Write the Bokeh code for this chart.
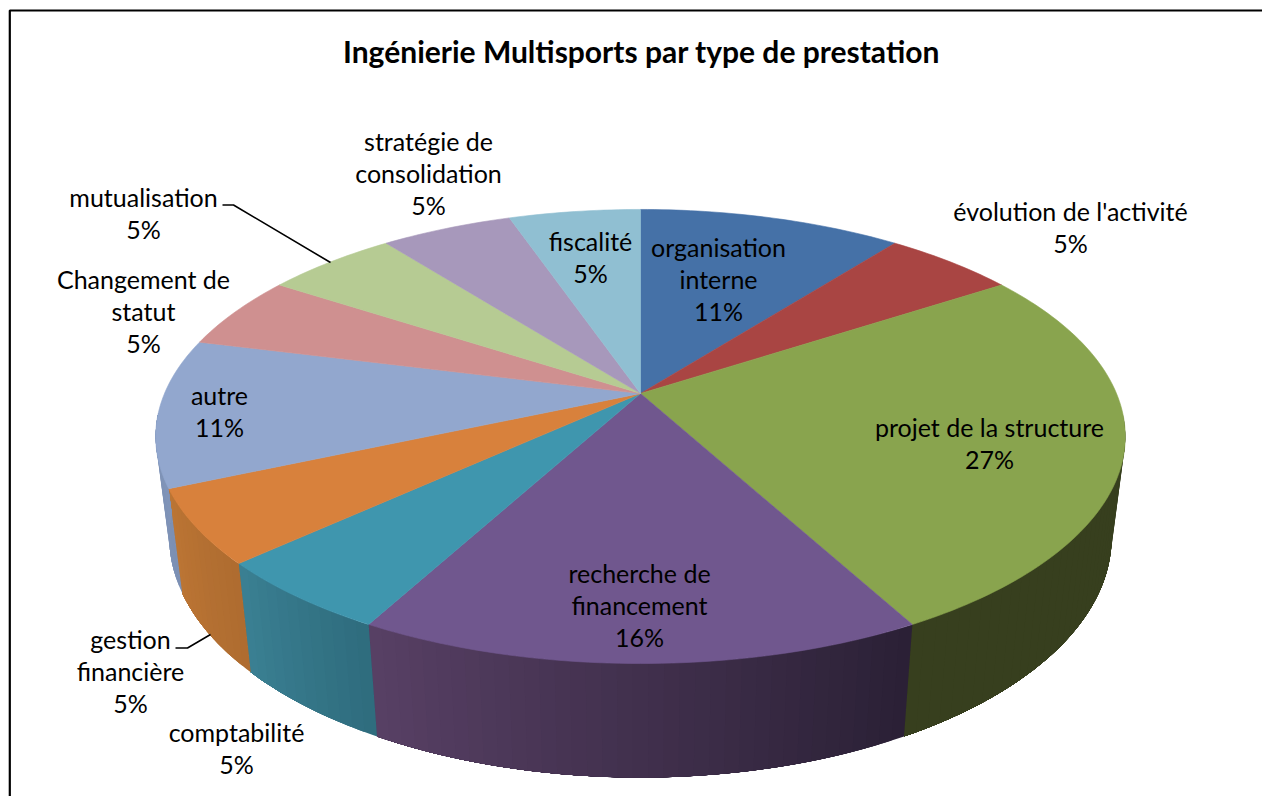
import math
from bokeh.plotting import figure
from bokeh.models import Range1d
from bokeh.core.properties import value
from bokeh.embed import file_html
from bokeh.resources import INLINE

title = "Ingénierie Multisports par type de prestation"
categories = ["organisation interne", "évolution de l'activité", "projet de la structure",
              "recherche de financement", "comptabilité", "gestion financière", "autre",
              "Changement de statut", "mutualisation", "stratégie de consolidation", "fiscalité"]
counts = [4, 2, 10, 6, 2, 2, 4, 2, 2, 2, 2]
percent_labels = ["11%", "5%", "27%", "16%", "5%", "5%", "11%", "5%", "5%", "5%", "5%"]
top_colors = ["#4571A7", "#A94543", "#89A44E", "#70578E", "#3F96AE", "#D8813C",
              "#92A7CE", "#CF9090", "#B6CB93", "#A798BB", "#90BFD2"]
# wall colours: (start, end) as the wall runs clockwise
wall_colors = {2: ("#373F1E", "#373F1E"), 3: ("#2A2035", "#584065"), 4: ("#2F6C7D", "#3A8093"),
               5: ("#AE6C30", "#BC7534"), 6: ("#7C90B4", "#8094B8")}

# label layout: line breaks, centre x, centre y of each row
label_rows = [["organisation", "interne", "11%"], ["évolution de l'activité", "5%"],
              ["projet de la structure", "27%"], ["recherche de", "financement", "16%"],
              ["comptabilité", "5%"], ["gestion", "financière", "5%"], ["autre", "11%"],
              ["Changement de", "statut", "5%"], ["mutualisation", "5%"],
              ["stratégie de", "consolidation", "5%"], ["fiscalité", "5%"]]
label_x = [718, 1070, 989, 639, 236, 130, 219, 143, 143, 428, 590]
label_y = [246, 210, 426, 572, 731, 638, 394, 278, 196, 140, 240]
ROW = 32.4
leaders = [([222, 233, 330], [204.5, 204.5, 262]), ([175, 187, 210], [647.5, 647.5, 634])]

TOP = dict(cx=640, y0=393, a=476, b=218.9, k=0.1894)
BOT = dict(cx=640, y0=492, a=463, b=232, k=0.186)


def project(theta, plane):
    u, v = math.sin(theta), -math.cos(theta)
    d = 1 - plane["k"] * v
    return plane["cx"] + plane["a"] * u / d, plane["y0"] + plane["b"] * v / d


def lerp_hex(c0, c1, t):
    a = [int(c0[i:i + 2], 16) for i in (1, 3, 5)]
    b = [int(c1[i:i + 2], 16) for i in (1, 3, 5)]
    return "#%02x%02x%02x" % tuple(round(x + (y - x) * t) for x, y in zip(a, b))


p = figure(width=1262, height=796, output_backend="svg", toolbar_location=None,
           x_range=Range1d(0, 1262), y_range=Range1d(796, 0), min_border=0,
           outline_line_color=None, background_fill_color="white", border_fill_color="white")
p.axis.visible = False
p.grid.visible = False

total = sum(counts)
angles = [0.0]
for c in counts:
    angles.append(angles[-1] + c / total * 2 * math.pi)

# frame: left and top sides only are inside the picture
p.line([9.3, 9.3, 1262], [796, 10, 10], line_color="black", line_width=2.2)

# side walls: each strip runs on to the wall's far end, the next strip paints over it
wx, wy, wc = [], [], []
lim0, lim1 = math.radians(95), math.radians(265)
for i, (col0, col1) in wall_colors.items():
    t0, t1 = max(angles[i], lim0), min(angles[i + 1], lim1)
    n = max(1, int(math.degrees(t1 - t0) / 1.5))
    for j in range(n):
        a0 = t0 + (t1 - t0) * j / n
        steps = [a0 + (t1 - a0) * m / 24 for m in range(25)]
        top = [project(a, TOP) for a in steps]
        bot = [project(a, BOT) for a in reversed(steps)]
        wx.append([q[0] for q in top + bot])
        wy.append([q[1] for q in top + bot])
        wc.append(lerp_hex(col0, col1, (j + 0.5) / n))
p.patches(wx, wy, fill_color=wc, line_color=None)

# top faces
tx, ty = [], []
for i in range(len(counts)):
    n = max(2, int(math.degrees(angles[i + 1] - angles[i])))
    pts = [project(angles[i] + (angles[i + 1] - angles[i]) * j / n, TOP) for j in range(n + 1)]
    tx.append([TOP["cx"]] + [q[0] for q in pts])
    ty.append([TOP["y0"]] + [q[1] for q in pts])
p.patches(tx, ty, fill_color=top_colors, line_color=top_colors, line_width=0.6)

for lx, ly in leaders:
    p.line(lx, ly, line_color="black", line_width=1.6)

FONT = "Lato"
xs, ys, txt = [], [], []
for rows, x, y in zip(label_rows, label_x, label_y):
    for r, row in enumerate(rows):
        xs.append(x)
        ys.append(y + r * ROW)
        txt.append(row)
p.text(xs, ys, text=txt, text_font=value(FONT), text_font_size="25px", text_color="black",
       text_align="center", text_baseline="middle")
p.text([641], [50], text=[title], text_font=value(FONT), text_font_size="30px",
       text_font_style="bold", text_color="black", text_align="center", text_baseline="middle")

open("out.html", "w").write(file_html(p, INLINE))
